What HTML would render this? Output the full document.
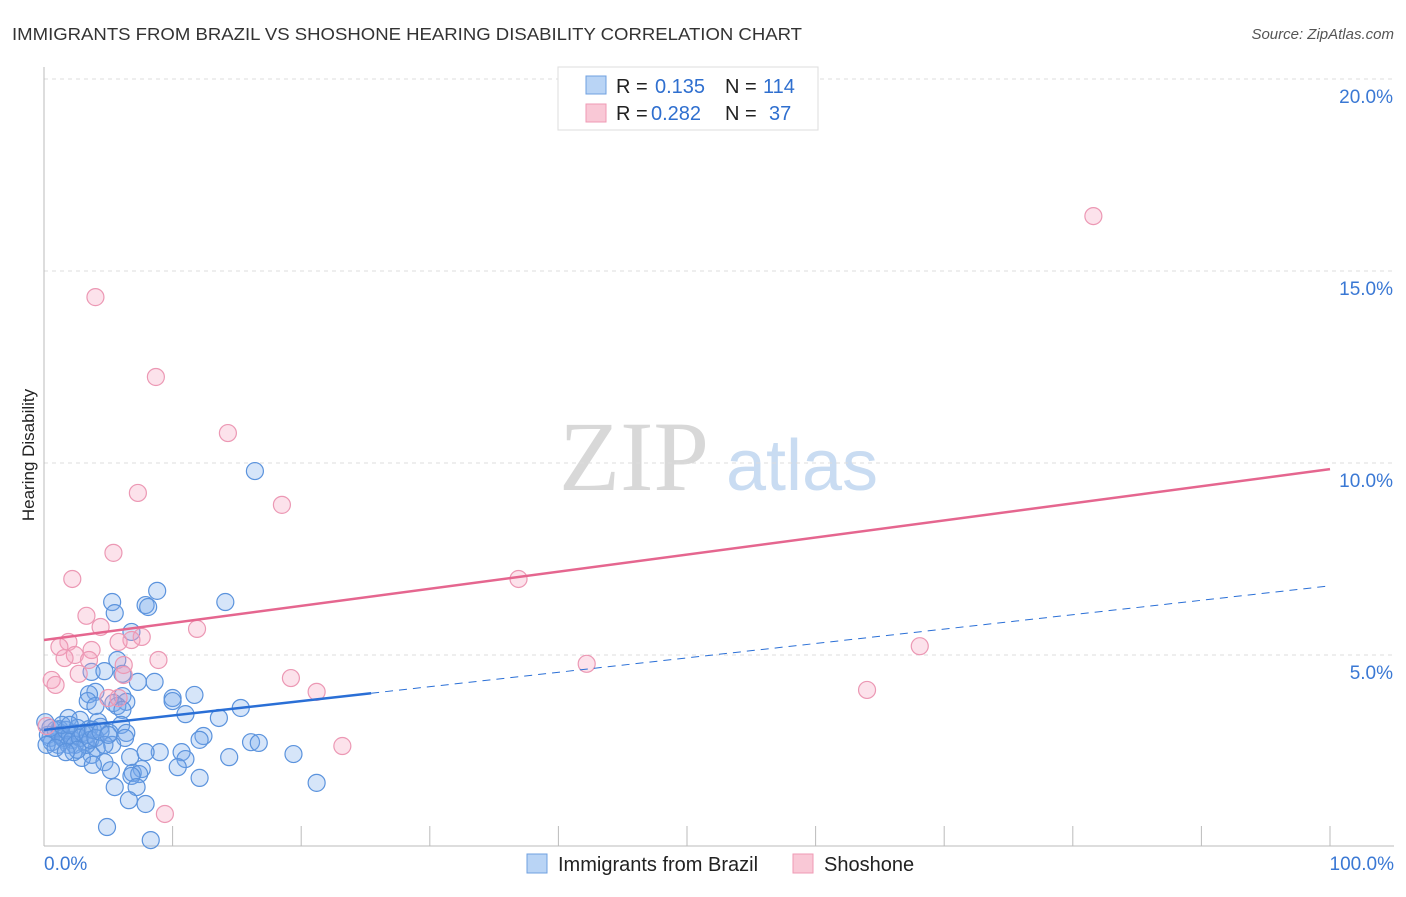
<!DOCTYPE html>
<html><head><meta charset="utf-8"><style>
body{margin:0;background:#fff;font-family:"Liberation Sans",sans-serif}
svg text{font-family:"Liberation Sans",sans-serif}
svg text.serif{font-family:"Liberation Serif",serif}
</style></head><body>
<svg id="chart" width="1406" height="892">
<text x="12" y="40" font-size="17.5" fill="#333" textLength="790" lengthAdjust="spacingAndGlyphs">IMMIGRANTS FROM BRAZIL VS SHOSHONE HEARING DISABILITY CORRELATION CHART</text>
<text x="1394" y="39" font-size="15" fill="#555" font-style="italic" text-anchor="end">Source: ZipAtlas.com</text>
<text transform="translate(34,455) rotate(-90)" font-size="17" fill="#222" text-anchor="middle">Hearing Disability</text>
<g>
<text class="serif" x="634" y="490" font-size="100" fill="#d8d8d8" text-anchor="middle">ZIP</text>
<text x="802" y="490" font-size="72" fill="#c9dcf2" text-anchor="middle">atlas</text>
</g>
<g id="grid"></g><g id="axes"></g><g id="pts"></g><g id="lines"></g>
<g>
<rect x="558" y="67" width="260" height="63" fill="#fff" stroke="#ddd"/>
<rect x="586" y="76" width="20" height="18" fill="#b9d4f5" stroke="#6fa0e0"/>
<rect x="586" y="104" width="20" height="18" fill="#f9c8d6" stroke="#ef9ab4"/>
<g font-size="20" fill="#222">
<text x="616" y="93">R =</text><text x="655" y="93" fill="#2f6fcf">0.135</text>
<text x="725" y="93">N =</text><text x="763" y="93" fill="#2f6fcf">114</text>
<text x="616" y="120">R =</text><text x="651" y="120" fill="#2f6fcf">0.282</text>
<text x="725" y="120">N =</text><text x="769" y="120" fill="#2f6fcf">37</text>
</g>
</g>
<g>
<rect x="527" y="854" width="20" height="19" fill="#b9d4f5" stroke="#6fa0e0"/>
<text x="558" y="871" font-size="20" fill="#222">Immigrants from Brazil</text>
<rect x="793" y="854" width="20" height="19" fill="#f9c8d6" stroke="#ef9ab4"/>
<text x="824" y="871" font-size="20" fill="#222">Shoshone</text>
</g>
</svg>
<script>
const blueX=[16.4,8.8,14.1,5.3,7.9,8.1,5.5,6.8,5.7,3.7,4.7,6.1,8.6,7.3,4.0,3.5,6.1,11.7,10.0,10.0,3.4,5.4,6.4,5.7,4.0,15.3,6.1,11.0,13.6,1.9,2.8,4.2,6.0,4.4,3.5,1.2,2.4,5.1,6.4,12.4,12.1,6.3,0.5,1.6,3.2,16.1,16.7,5.3,4.1,9.0,7.9,10.7,19.4,3.7,6.7,14.4,2.95,11.0,4.7,3.8,10.4,7.6,5.2,6.9,7.4,12.1,6.8,21.2,5.5,7.2,6.6,7.9,4.9,8.3,0.3,0.6,0.9,1.1,1.2,1.5,1.7,1.9,2.0,2.2,2.4,2.6,2.8,3.0,3.3,3.4,3.6,3.8,4.0,4.4,4.7,5.0,0.2,0.5,0.9,1.4,2.0,2.3,2.6,1.7,0.1];
const blueY=[9.79,6.67,6.38,6.38,6.30,6.25,6.09,5.60,4.87,4.56,4.58,4.51,4.30,4.30,4.04,3.98,3.93,3.96,3.88,3.80,3.80,3.75,3.78,3.67,3.67,3.62,3.57,3.46,3.36,3.36,3.31,3.26,3.18,3.13,3.07,3.07,2.97,2.97,2.97,2.89,2.79,2.84,2.84,2.79,2.73,2.73,2.71,2.66,2.58,2.47,2.47,2.47,2.42,2.40,2.34,2.34,2.32,2.29,2.21,2.14,2.08,2.03,2.00,1.93,1.90,1.80,1.85,1.67,1.56,1.56,1.22,1.12,0.52,0.18,2.92,2.73,3.05,2.66,2.92,2.84,3.05,2.66,2.92,2.79,2.66,3.10,2.84,2.97,2.66,2.92,2.79,3.05,2.84,3.00,2.66,2.92,2.66,3.10,2.58,3.18,3.18,2.47,2.53,2.47,3.25];
const pinkX=[81.6,4.0,8.7,14.3,7.3,18.5,5.4,2.2,36.9,3.3,4.4,11.9,7.6,1.9,6.8,5.8,1.2,3.7,2.4,1.6,3.5,8.9,68.1,42.2,2.7,6.2,0.6,0.9,19.2,21.2,64.0,5.0,5.8,23.2,9.4,0.2,6.2];
const pinkY=[16.43,14.32,12.24,10.78,9.22,8.91,7.66,6.98,6.98,6.02,5.73,5.68,5.47,5.34,5.39,5.34,5.21,5.13,5.00,4.92,4.87,4.87,5.23,4.77,4.51,4.48,4.35,4.22,4.40,4.04,4.09,3.88,3.88,2.63,0.86,3.15,4.74];
const yTicks=[5,10,15,20];
const xTickLabels=["0.0%","100.0%"];
const blueFit=[3.05,3.75];
const pinkFit=[5.39,4.45];
const X=v=>44+v*12.86, Y=v=>847-v*38.4;
const NS="http://www.w3.org/2000/svg";
function mk(t,a,p){const e=document.createElementNS(NS,t);for(const k in a)e.setAttribute(k,a[k]);p.appendChild(e);return e;}
const grid=document.getElementById('grid'),axes=document.getElementById('axes'),pts=document.getElementById('pts'),lines=document.getElementById('lines');
yTicks.forEach(t=>{
 const l=mk('line',{x1:44,x2:1394,y1:Y(t),y2:Y(t),stroke:'#ddd','stroke-dasharray':'4,4'},grid);
 
 
 const tx=mk('text',{x:1393,y:Y(t)+24,'font-size':19,fill:'#3a78d4','text-anchor':'end'},axes);
 tx.textContent=t.toFixed(1)+'%';
 
 
});
const ax=mk('line',{x1:44,x2:44,y1:67,y2:846,stroke:'#bbb'},axes);


const bx=mk('line',{x1:44,x2:1394,y1:846,y2:846,stroke:'#bbb'},axes);


for(let i=1;i<=10;i++){const t=mk('line',{x1:X(i*10),x2:X(i*10),y1:826,y2:846,stroke:'#bbb'},axes);
 
 }
[[0,'start',44],[1,'end',1394]].forEach(([i,a,x])=>{const t=mk('text',{x:x,y:870,'font-size':19,fill:'#3a78d4','text-anchor':a},axes);t.textContent=xTickLabels[i];
 
 });
blueX.forEach((v,i)=>{const c=mk('circle',{cx:X(v),cy:Y(blueY[i]),r:8.5,fill:'rgba(120,170,235,0.3)',stroke:'#5b93dd','stroke-width':1.2},pts);
 
 });
pinkX.forEach((v,i)=>{const c=mk('circle',{cx:X(v),cy:Y(pinkY[i]),r:8.5,fill:'rgba(245,160,190,0.3)',stroke:'#ec98b4','stroke-width':1.2},pts);
 
 });
const bmax=Math.max(...blueX);
const l1=mk('line',{x1:X(0),y1:Y(blueFit[0]),x2:X(bmax*1.2),y2:Y(blueFit[0]+blueFit[1]*bmax*1.2/100),stroke:'#2a6fd6','stroke-width':2.5},lines);


const l2=mk('line',{x1:X(bmax*1.2),y1:Y(blueFit[0]+blueFit[1]*bmax*1.2/100),x2:X(100),y2:Y(blueFit[0]+blueFit[1]),stroke:'#2a6fd6','stroke-width':1,'stroke-dasharray':'8,6'},lines);


const l3=mk('line',{x1:X(0),y1:Y(pinkFit[0]),x2:X(100),y2:Y(pinkFit[0]+pinkFit[1]),stroke:'#e5668f','stroke-width':2.5},lines);


</script>
</body></html>
